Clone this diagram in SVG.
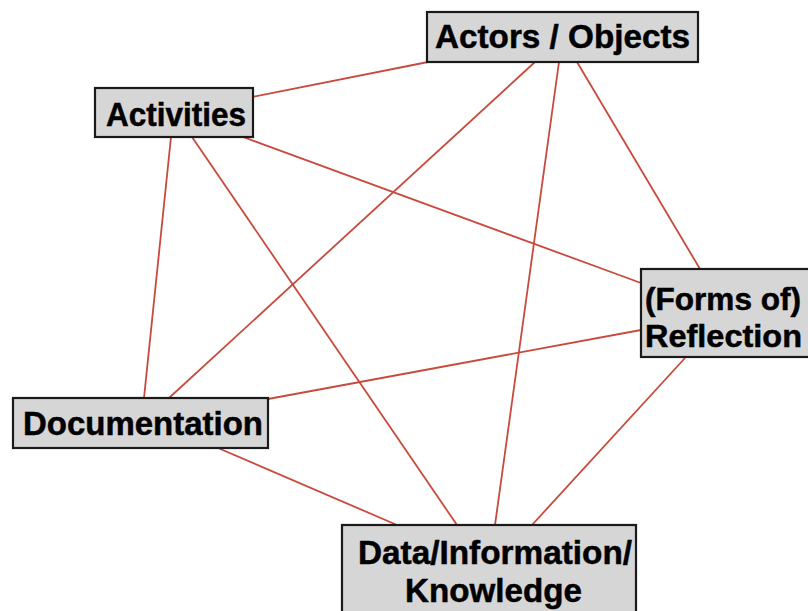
<svg xmlns="http://www.w3.org/2000/svg" width="808" height="611" viewBox="0 0 808 611">
<style>
.box{fill:#d6d6d6;stroke:#1a1a1a;stroke-width:2.2}
.lbl{font-family:"Liberation Sans",Arial,Helvetica,sans-serif;font-weight:bold;font-size:33.5px;fill:#000;stroke:#000;stroke-width:0.5}
.sm{font-size:31px}
.c{stroke:#c84a3c;stroke-width:1.8;fill:none}
</style>
<rect width="808" height="611" fill="#fff"/>
<g id="connectors">
<line class="c" x1="252" y1="97" x2="428" y2="62"/>
<line class="c" x1="243" y1="137" x2="641" y2="283"/>
<line class="c" x1="171" y1="137" x2="144" y2="398"/>
<line class="c" x1="192" y1="137" x2="457" y2="525"/>
<line class="c" x1="535" y1="62" x2="169" y2="398"/>
<line class="c" x1="559" y1="62" x2="495" y2="525"/>
<line class="c" x1="577" y1="62" x2="700" y2="269"/>
<line class="c" x1="641" y1="330" x2="268" y2="399"/>
<line class="c" x1="685" y1="358" x2="532" y2="525"/>
<line class="c" x1="218" y1="448" x2="397" y2="525"/>
</g>
<g id="actors">
<rect class="box" x="427" y="12" width="271" height="50"/>
<text class="lbl" x="435" y="48" textLength="255" lengthAdjust="spacingAndGlyphs">Actors / Objects</text>
</g>
<g id="activities">
<rect class="box" x="95" y="88" width="158" height="49"/>
<text class="lbl" x="106" y="126" textLength="140" lengthAdjust="spacingAndGlyphs">Activities</text>
</g>
<g id="reflection">
<rect class="box" x="641" y="269" width="180" height="88"/>
<text class="lbl sm" x="645" y="310" textLength="156" lengthAdjust="spacingAndGlyphs">(Forms of)</text>
<text class="lbl sm" x="645" y="347" textLength="157" lengthAdjust="spacingAndGlyphs">Reflection</text>
</g>
<g id="documentation">
<rect class="box" x="13" y="398" width="255" height="50"/>
<text class="lbl" x="23" y="435" textLength="240" lengthAdjust="spacingAndGlyphs">Documentation</text>
</g>
<g id="data">
<rect class="box" x="342" y="525" width="294" height="100"/>
<text class="lbl" x="358" y="564" textLength="274" lengthAdjust="spacingAndGlyphs">Data/Information/</text>
<text class="lbl" x="405" y="602" textLength="177" lengthAdjust="spacingAndGlyphs">Knowledge</text>
</g>
</svg>
